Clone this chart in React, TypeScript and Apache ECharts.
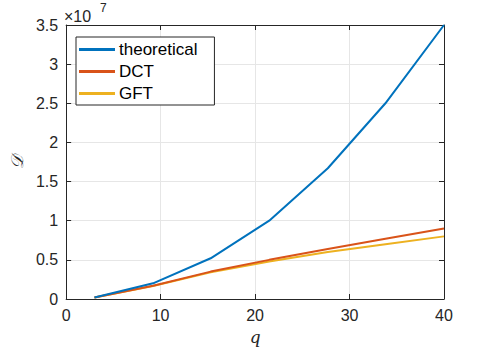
import React, { useEffect, useRef } from "react";
import * as echarts from "echarts";

const qValues = [3, 9.2, 15.3, 21.5, 27.7, 33.8, 40];
const theoretical = [0.02, 0.2, 0.52, 1.0, 1.67, 2.5, 3.5];
const dct = [0.02, 0.17, 0.35, 0.5, 0.64, 0.77, 0.9];
const gft = [0.02, 0.165, 0.34, 0.48, 0.6, 0.7, 0.8];
const scale = 1e7;
const seriesNames = ["theoretical", "DCT", "GFT"];
const seriesColors = ["#0072BD", "#D95319", "#EDB120"];

const FONT = "'Liberation Sans', Arial, Helvetica, sans-serif";

export default function App() {
  const ref = useRef<HTMLDivElement>(null);
  useEffect(() => {
    if (!ref.current) return;
    const chart = echarts.init(ref.current, undefined, { renderer: "svg" });
    const datasets = [theoretical, dct, gft];
    const axisCommon = {
      axisLine: { show: true, onZero: false, lineStyle: { color: "#262626", width: 1 } },
      axisTick: { show: true, inside: true, length: 5, lineStyle: { color: "#262626" } },
    };
    chart.setOption({
      animation: false,
      backgroundColor: "#ffffff",
      grid: { left: 64, right: 47, top: 25, bottom: 49, containLabel: false },
      xAxis: [
        {
          type: "value",
          min: 0,
          max: 40,
          interval: 10,
          ...axisCommon,
          axisLabel: { fontFamily: FONT, fontSize: 16, color: "#262626", margin: 8 },
          splitLine: { show: true, lineStyle: { color: "#e6e6e6", width: 1 } },
          name: "q",
          nameLocation: "middle",
          nameGap: 29,
          nameTextStyle: { fontFamily: "'DejaVu Serif', serif", fontStyle: "italic", fontSize: 17, color: "#262626" },
        },
        {
          type: "value",
          position: "top",
          min: 0,
          max: 40,
          interval: 10,
          ...axisCommon,
          axisLabel: { show: false },
          splitLine: { show: false },
        },
      ],
      yAxis: [
        {
          type: "value",
          min: 0,
          max: 3.5 * scale,
          interval: 0.5 * scale,
          ...axisCommon,
          axisLabel: {
            fontFamily: FONT,
            fontSize: 16,
            color: "#262626",
            margin: 8,
            formatter: (v: number) => String(Math.round((v / scale) * 10) / 10),
          },
          splitLine: { show: true, lineStyle: { color: "#e6e6e6", width: 1 } },
          name: "𝒟",
          nameLocation: "middle",
          nameGap: 40,
          nameRotate: 90,
          nameTextStyle: { fontFamily: "'DejaVu Serif', 'DejaVu Sans', serif", fontStyle: "italic", fontSize: 17, color: "#262626" },
        },
        {
          type: "value",
          position: "right",
          min: 0,
          max: 3.5 * scale,
          interval: 0.5 * scale,
          ...axisCommon,
          axisLabel: { show: false },
          splitLine: { show: false },
        },
      ],
      legend: {
        orient: "vertical",
        left: 76,
        top: 37,
        data: seriesNames,
        icon: "rect",
        itemWidth: 36,
        itemHeight: 3,
        itemGap: 5,
        padding: [4, 17, 3, 3],
        borderColor: "#262626",
        borderWidth: 1,
        backgroundColor: "#ffffff",
        textStyle: { fontFamily: FONT, fontSize: 17, color: "#000000", padding: [0, 0, 0, -1] },
      },
      graphic: [
        {
          type: "text",
          x: 64,
          y: 8,
          style: { text: "×10", fontFamily: FONT, fontSize: 16, fill: "#262626", verticalAlign: "top", align: "left" },
        },
        {
          type: "text",
          x: 100,
          y: 2,
          style: { text: "7", fontFamily: FONT, fontSize: 12, fill: "#262626", verticalAlign: "top", align: "left" },
        },
      ],
      series: datasets.map((d, i) => ({
        name: seriesNames[i],
        type: "line",
        xAxisIndex: 0,
        yAxisIndex: 0,
        data: qValues.map((q, j) => [q, d[j] * scale]),
        showSymbol: false,
        symbol: "none",
        lineStyle: { color: seriesColors[i], width: 2 },
        itemStyle: { color: seriesColors[i] },
        z: 3 - i,
      })),
    });
    return () => chart.dispose();
  }, []);
  return <div ref={ref} style={{ position: "absolute", left: 0, top: 0, width: 491, height: 350 }} />;
}
